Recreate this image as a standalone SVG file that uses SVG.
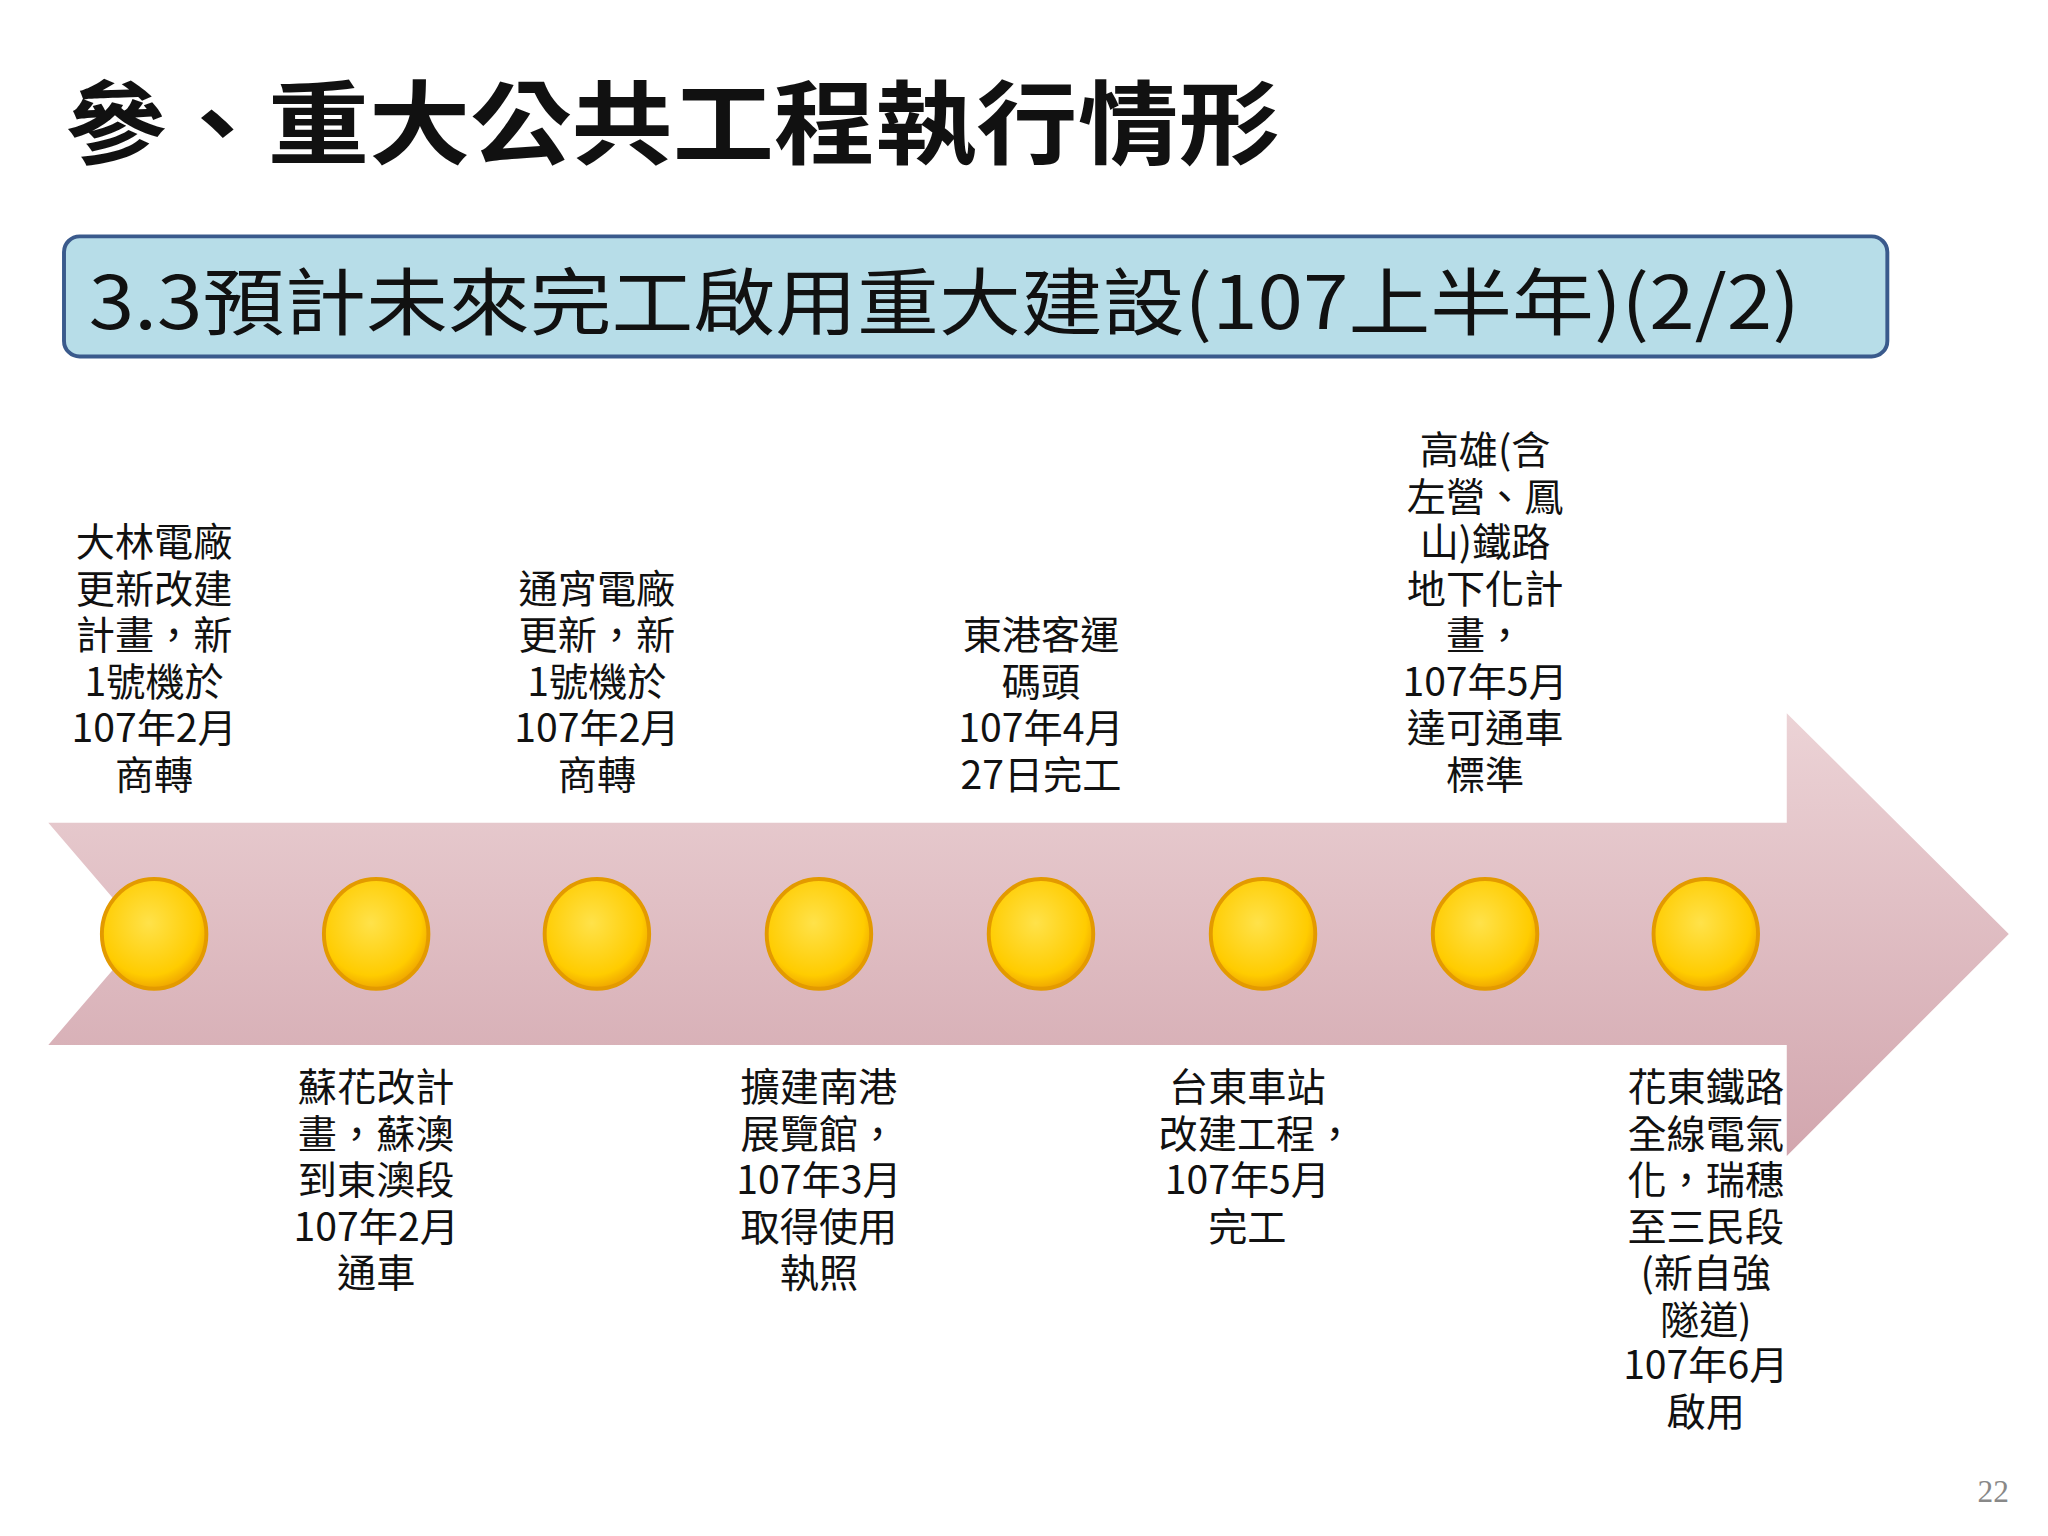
<svg xmlns="http://www.w3.org/2000/svg" width="2048" height="1536" viewBox="0 0 2048 1536">
<defs>
<linearGradient id="ar" x1="0" y1="0" x2="0" y2="1"><stop offset="0" stop-color="#ecd3d6"/><stop offset="1" stop-color="#d2a6ae"/></linearGradient>
<radialGradient id="gd" cx="0.45" cy="0.4" r="0.6"><stop offset="0" stop-color="#ffe24a"/><stop offset="0.8" stop-color="#ffcc00"/><stop offset="1" stop-color="#f0a800"/></radialGradient>
<style>
.t{font-family:"Noto Sans CJK TC","Noto Sans CJK SC",sans-serif;font-size:30px;fill:#111;text-anchor:middle}
.c{fill:url(#gd);stroke:#e39a00;stroke-width:3}
</style>
</defs>
<rect width="2048" height="1536" fill="#fff"/>
<g transform="scale(1.30612)">
<g id="title"><text x="50" y="120" font-family="Noto Sans CJK TC,sans-serif" font-weight="bold" font-size="70" fill="#111" textLength="930" lengthAdjust="spacingAndGlyphs">參、重大公共工程執行情形</text></g>
<g id="subtitle"><rect x="49" y="181" width="1396" height="92" rx="12" fill="#b7dde8" stroke="#3a5a8c" stroke-width="3"/>
<text x="68" y="252" font-family="Noto Sans CJK TC,sans-serif" font-size="56" fill="#111" textLength="1310" lengthAdjust="spacingAndGlyphs">3.3預計未來完工啟用重大建設(107上半年)(2/2)</text></g>
<g id="arrow"><path d="M37,630 L1368,630 L1368,546 L1538,715 L1368,885 L1368,800 L37,800 L110,715 Z" fill="url(#ar)"/></g>
<g id="dots">
<ellipse class="c" cx="118" cy="715" rx="40" ry="42"/><ellipse class="c" cx="288" cy="715" rx="40" ry="42"/>
<ellipse class="c" cx="457" cy="715" rx="40" ry="42"/><ellipse class="c" cx="627" cy="715" rx="40" ry="42"/>
<ellipse class="c" cx="797" cy="715" rx="40" ry="42"/><ellipse class="c" cx="967" cy="715" rx="40" ry="42"/>
<ellipse class="c" cx="1137" cy="715" rx="40" ry="42"/><ellipse class="c" cx="1306" cy="715" rx="40" ry="42"/>
</g>
<g id="n1"><text class="t"><tspan x="118" y="426">大林電廠</tspan><tspan x="118" y="462">更新改建</tspan><tspan x="118" y="497">計畫，新</tspan><tspan x="118" y="533">1號機於</tspan><tspan x="118" y="568">107年2月</tspan><tspan x="118" y="604">商轉</tspan></text></g>
<g id="n3"><text class="t"><tspan x="457" y="462">通宵電廠</tspan><tspan x="457" y="497">更新，新</tspan><tspan x="457" y="533">1號機於</tspan><tspan x="457" y="568">107年2月</tspan><tspan x="457" y="604">商轉</tspan></text></g>
<g id="n5"><text class="t"><tspan x="797" y="497">東港客運</tspan><tspan x="797" y="533">碼頭</tspan><tspan x="797" y="568">107年4月</tspan><tspan x="797" y="604">27日完工</tspan></text></g>
<g id="n7"><text class="t"><tspan x="1137" y="355">高雄(含</tspan><tspan x="1137" y="391">左營、鳳</tspan><tspan x="1137" y="426">山)鐵路</tspan><tspan x="1137" y="462">地下化計</tspan><tspan x="1137" y="497">畫，</tspan><tspan x="1137" y="533">107年5月</tspan><tspan x="1137" y="568">達可通車</tspan><tspan x="1137" y="604">標準</tspan></text></g>
<g id="n2"><text class="t"><tspan x="288" y="843">蘇花改計</tspan><tspan x="288" y="879">畫，蘇澳</tspan><tspan x="288" y="914">到東澳段</tspan><tspan x="288" y="950">107年2月</tspan><tspan x="288" y="985">通車</tspan></text></g>
<g id="n4"><text class="t"><tspan x="627" y="843">擴建南港</tspan><tspan x="627" y="879">展覽館，</tspan><tspan x="627" y="914">107年3月</tspan><tspan x="627" y="950">取得使用</tspan><tspan x="627" y="985">執照</tspan></text></g>
<g id="n6"><text class="t"><tspan x="955" y="843">台東車站</tspan><tspan x="962" y="879">改建工程，</tspan><tspan x="955" y="914">107年5月</tspan><tspan x="955" y="950">完工</tspan></text></g>
<g id="n8"><text class="t"><tspan x="1306" y="843">花東鐵路</tspan><tspan x="1306" y="879">全線電氣</tspan><tspan x="1306" y="914">化，瑞穗</tspan><tspan x="1306" y="950">至三民段</tspan><tspan x="1306" y="985">(新自強</tspan><tspan x="1306" y="1021">隧道)</tspan><tspan x="1306" y="1056">107年6月</tspan><tspan x="1306" y="1092">啟用</tspan></text></g>
<text x="1538" y="1150" font-family="Liberation Serif,serif" font-size="24" fill="#888" text-anchor="end">22</text>
</g>
</svg>
